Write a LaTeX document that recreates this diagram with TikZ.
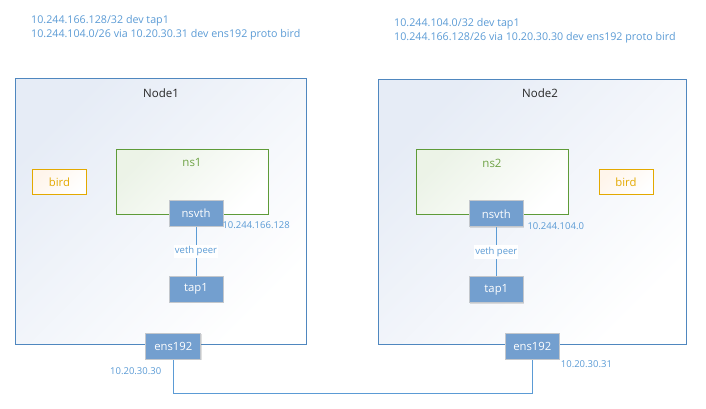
\documentclass[tikz,border=0pt]{standalone}
\usepackage{fontspec}
\setmainfont{Open Sans}
\usetikzlibrary{shadows}
\definecolor{lblue}{HTML}{5B9BD5}
\definecolor{nodeblue}{HTML}{4F87BF}
\definecolor{boxfill}{HTML}{739FCF}
\definecolor{boxborder}{HTML}{C3C7CC}
\definecolor{nsgreen}{HTML}{5E9B38}
\definecolor{nstext}{HTML}{6FA346}
\definecolor{birdc}{HTML}{E3A900}
\definecolor{bgtint}{HTML}{E6ECF6}
\begin{document}
\begin{tikzpicture}[x=1pt,y=-1pt,
  hostbox/.style={draw=nodeblue,line width=1pt,left color=bgtint,right color=white,shading angle=45,minimum width=#1,minimum height=265pt,inner sep=0pt},
  nsbox/.style={draw=nsgreen,line width=1pt,left color=nsgreen!12,right color=white,shading angle=45,minimum width=152pt,minimum height=65pt,inner sep=0pt},
  birdbox/.style={draw=birdc,line width=1pt,left color=orange!8,right color=white,shading angle=45,text=birdc,minimum width=54pt,minimum height=25pt,inner sep=0pt,font=\fontsize{11.3}{13}\selectfont},
  dev/.style={draw=boxborder,line width=1pt,fill=boxfill,text=white,minimum width=54pt,minimum height=26pt,inner sep=0pt,font=\fontsize{11.3}{13}\selectfont,drop shadow={opacity=0.25,shadow xshift=1pt,shadow yshift=-1pt}},
  lbl/.style={text=lblue,inner sep=0pt,font=\fontsize{9.5}{11}\selectfont},
  title/.style={inner sep=0pt,font=\fontsize{11.5}{13}\selectfont},
  wire/.style={draw=lblue,line width=1pt}]
\useasboundingbox (0,0) rectangle (706,409);
% host boxes
\node[hostbox=291pt] (node1) at (160.5,211.5) {};
\node[hostbox=308pt] (node2) at (532.3,212) {};
\node[title,text=black!85] (n1t) at (161,93) {Node1};
\node[title,text=black!85] (n2t) at (540,93) {Node2};
% namespaces
\node[nsbox] (ns1) at (192.3,181.7) {};
\node[nsbox] (ns2) at (492.3,181.7) {};
\node[title,text=nstext] (ns1t) at (192,162) {ns1};
\node[title,text=nstext] (ns2t) at (492,163) {ns2};
% bird
\node[birdbox] (bird1) at (59.5,181.8) {bird};
\node[birdbox] (bird2) at (626,181.8) {bird};
% devices
\node[dev] (nsvth1) at (196,213.2) {nsvth};
\node[dev] (tap1) at (196,289.3) {tap1};
\node[dev] (nsvth2) at (496.3,213.8) {nsvth};
\node[dev] (tap2) at (496.3,289.8) {tap1};
\draw[wire] (nsvth1) -- node[lbl,fill=white,inner ysep=2pt,inner xsep=1pt]{veth peer} (tap1);
\draw[wire] (nsvth2) -- node[lbl,fill=white,inner ysep=2pt,inner xsep=1pt]{veth peer} (tap2);
\node[dev,minimum width=55pt] (ens1) at (173.3,346.3) {ens192};
\node[dev] (ens2) at (532.3,346.3) {ens192};
\coordinate (bend) at (173.3,393.7);
\draw[wire] (ens1.south) -- (bend) -| (ens2.south);
% address labels
\node[lbl,anchor=west] (a1) at (222.3,225) {10.244.166.128};
\node[lbl,anchor=west] (a2) at (527.3,225.7) {10.244.104.0};
\node[lbl,anchor=west] (a3) at (110,370.7) {10.20.30.30};
\node[lbl,anchor=west] (a4) at (560.7,364.3) {10.20.30.31};
% routes
\node[lbl,anchor=north west,align=left,font=\fontsize{10.7}{14.5}\selectfont] (r1) at (31,15) {10.244.166.128/32 dev tap1\\10.244.104.0/26 via 10.20.30.31 dev ens192 proto bird};
\node[lbl,anchor=north west,align=left,font=\fontsize{10.7}{14.5}\selectfont] (r2) at (394,18) {10.244.104.0/32 dev tap1\\10.244.166.128/26 via 10.20.30.30 dev ens192 proto bird};
\end{tikzpicture}
\end{document}
